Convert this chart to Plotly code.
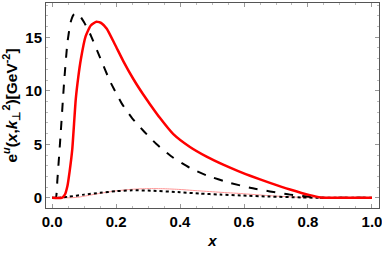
import plotly.graph_objects as go

# Dashed black curve
x_dash = [0.0, 0.0115, 0.0166, 0.027, 0.0375, 0.048, 0.058, 0.067, 0.076, 0.087, 0.10, 0.119, 0.15, 0.181,
          0.218, 0.25, 0.2875, 0.327, 0.379, 0.431, 0.483, 0.556, 0.619, 0.681, 0.744, 0.806, 0.845, 0.90, 1.0]
y_dash = [0.0, 0.0, 1.7, 6.06, 10.75, 14.5, 16.4, 17.1, 17.25, 17.0, 16.4, 15.3, 13.1, 10.9,
          8.8, 7.45, 6.2, 5.0, 3.74, 2.8, 2.1, 1.4, 0.94, 0.6, 0.3, 0.1, 0.0, 0.0, 0.0]

# Red solid curve
x_red = [0.0, 0.03, 0.04, 0.048, 0.055, 0.063, 0.074, 0.082, 0.09, 0.105, 0.121, 0.139, 0.155, 0.171, 0.197,
         0.223, 0.254, 0.285, 0.306, 0.3375, 0.379, 0.431, 0.483, 0.535, 0.582, 0.619, 0.681, 0.744,
         0.806, 0.84, 0.87, 0.90, 1.0]
y_red = [0.0, 0.0, 0.3, 1.1, 2.5, 4.5, 9.2, 11.3, 12.95, 15.1, 16.1, 16.45, 16.3, 15.8, 14.3,
         12.75, 11.1, 9.65, 8.75, 7.45, 5.95, 4.75, 3.85, 3.1, 2.5, 2.06, 1.4, 0.78,
         0.25, 0.04, 0.0, 0.0, 0.0]

# Dotted black curve
x_dot = [0.0, 0.02, 0.05, 0.10, 0.15, 0.20, 0.25, 0.30, 0.40, 0.46, 0.525, 0.59, 0.68, 0.78, 0.85, 0.90, 1.0]
y_dot = [0.0, 0.0, 0.1, 0.3, 0.47, 0.62, 0.7, 0.68, 0.52, 0.4, 0.3, 0.22, 0.12, 0.04, 0.0, 0.0, 0.0]

# Thin pink curve
x_pink = [0.0, 0.05, 0.08, 0.10, 0.15, 0.20, 0.25, 0.30, 0.35, 0.40, 0.46, 0.525, 0.59, 0.68, 0.78, 0.83, 0.90, 1.0]
y_pink = [0.0, 0.0, 0.05, 0.15, 0.42, 0.65, 0.8, 0.86, 0.85, 0.78, 0.65, 0.52, 0.4, 0.2, 0.04, 0.0, 0.0, 0.0]

x_ticks = [0.0, 0.2, 0.4, 0.6, 0.8, 1.0]
x_ticklabels = ["<b>0.0</b>", "<b>0.2</b>", "<b>0.4</b>", "<b>0.6</b>", "<b>0.8</b>", "<b>1.0</b>"]
y_ticks = [0, 5, 10, 15]
y_ticklabels = ["<b>0</b>", "<b>5</b>", "<b>10</b>", "<b>15</b>"]

fig = go.Figure()
fig.add_trace(go.Scatter(x=x_pink, y=y_pink, mode="lines", line=dict(color="rgb(255,150,150)", width=1, shape="spline", smoothing=0.6)))
fig.add_trace(go.Scatter(x=x_dot, y=y_dot, mode="lines", line=dict(color="black", width=2, dash="dot", shape="spline", smoothing=0.6)))
fig.add_trace(go.Scatter(x=x_dash, y=y_dash, mode="lines", line=dict(color="black", width=2, dash="dash", shape="spline", smoothing=0.5)))
fig.add_trace(go.Scatter(x=x_red, y=y_red, mode="lines", line=dict(color="red", width=2.5, shape="spline", smoothing=0.5)))

tickfont = dict(family="Liberation Sans", size=15, color="black")
fig.update_layout(
    width=382, height=255,
    margin=dict(l=46, r=3, t=3, b=47, autoexpand=False),
    paper_bgcolor="white", plot_bgcolor="white",
    showlegend=False,
    font=dict(family="Liberation Sans", color="black", size=15),
    xaxis=dict(range=[-0.019, 1.022], tickvals=x_ticks, ticktext=x_ticklabels, tickfont=tickfont,
               showgrid=False, zeroline=False, showline=True, linecolor="#555", linewidth=1, mirror="ticks",
               ticks="inside", ticklen=4, tickcolor="#999", automargin=False, ticklabeloverflow="allow",
               minor=dict(dtick=0.05, ticks="inside", ticklen=2, tickcolor="#bbb"),
               title=dict(text="<b><i>x</i></b>", font=dict(size=15, family="Liberation Sans"), standoff=6)),
    yaxis=dict(range=[-0.95, 18.2], tickvals=y_ticks, ticktext=y_ticklabels, tickfont=tickfont,
               showgrid=False, zeroline=False, showline=True, linecolor="#555", linewidth=1, mirror="ticks",
               ticks="inside", ticklen=4, tickcolor="#999", automargin=False, ticklabeloverflow="allow",
               minor=dict(dtick=1, ticks="inside", ticklen=2, tickcolor="#bbb"),
               title=dict(text="<b>e<sup><i>u</i></sup>(<i>x</i>,<i>k</i><sub>⊥</sub><sup>2</sup>)[GeV<sup>-2</sup>]</b>",
                          font=dict(size=15.5, family="Liberation Sans"), standoff=4)),
)
fig.write_html("out.html", config={"displayModeBar": False},
               post_script="document.body.style.margin='0';document.body.style.padding='0';")
